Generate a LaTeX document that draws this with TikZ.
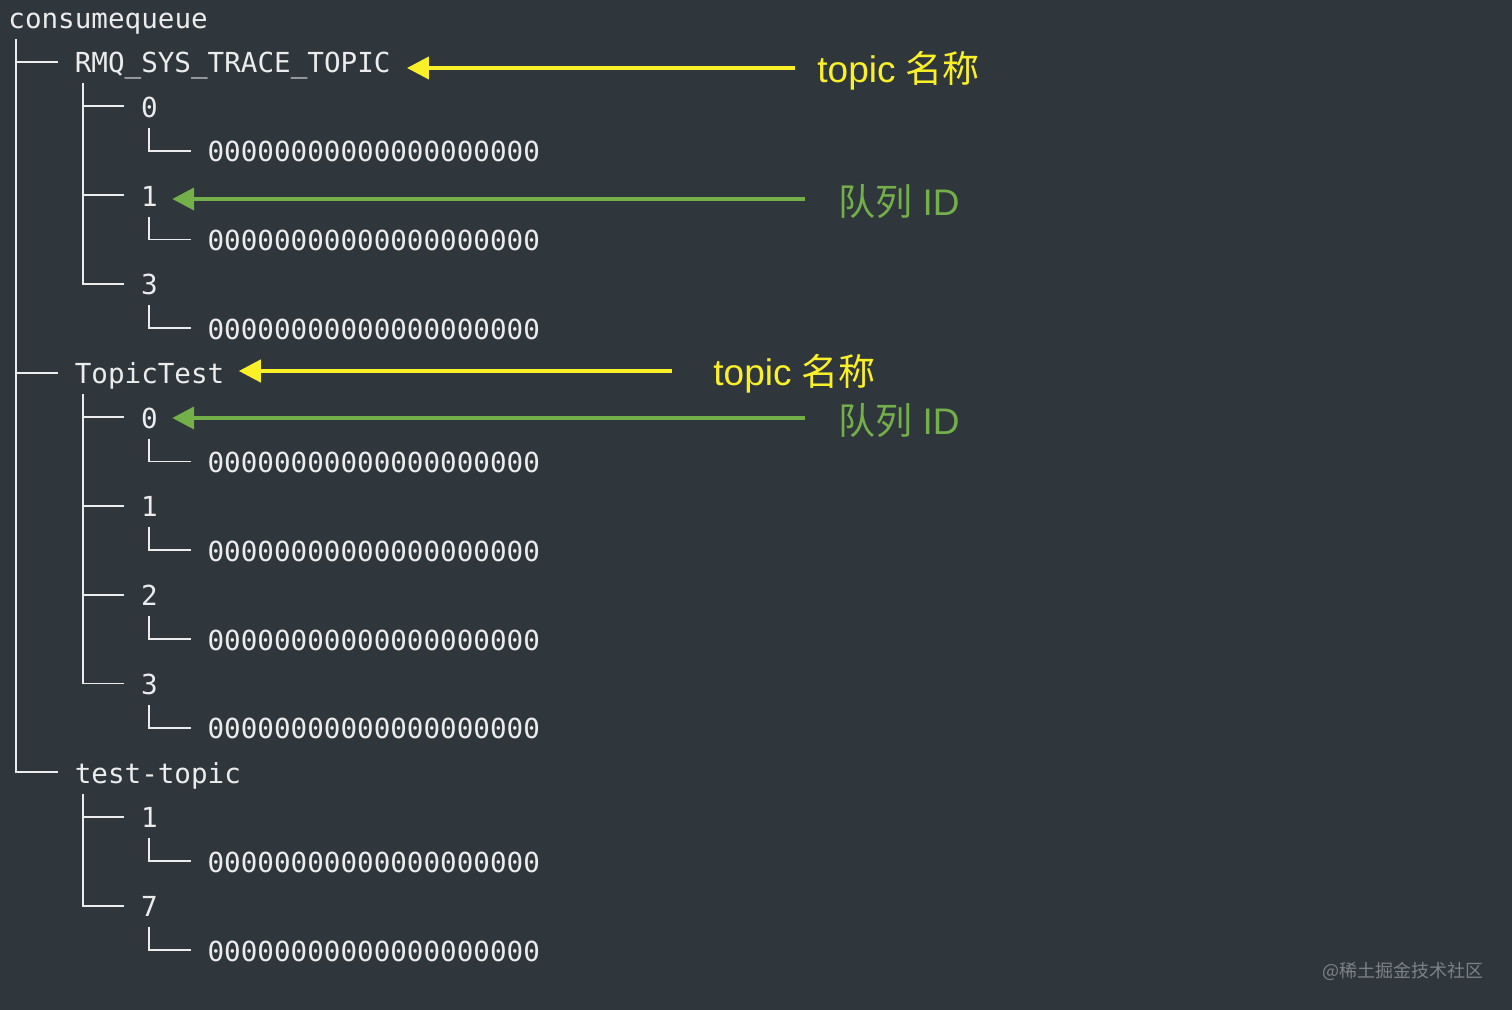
\documentclass[tikz,border=0pt]{standalone}
\usepackage{fontspec}
\usepackage{tikz}
\setmainfont{Liberation Sans}
\setmonofont{DejaVu Sans Mono}
\newfontfamily\cjk{Noto Sans CJK SC}
\usetikzlibrary{positioning,calc,arrows.meta}
\definecolor{bg}{RGB}{47,54,60}
\definecolor{fg}{RGB}{236,236,236}
\definecolor{ylw}{RGB}{250,240,40}
\definecolor{grn}{RGB}{116,176,74}
\definecolor{wm}{RGB}{125,130,135}
\newcommand\qfile{00000000000000000000}

\begin{document}
\begin{tikzpicture}[x=0.5pt, y=-0.5pt,
    entry/.style={anchor=base west, inner sep=0pt, text height=16pt, text depth=5pt,
        text=fg, font=\ttfamily\fontsize{13.8pt}{16pt}\selectfont},
    tree/.style={draw=fg, line width=0.9pt},
    branch/.style={to path={([xshift=4.15pt]\tikztostart.south west) |- ([xshift=-8.3pt]\tikztotarget.west)}},
    note/.style={inner sep=0pt, yshift=-1.5pt, font=\fontsize{18.5pt}{20pt}\selectfont},
    yarrow/.style={-{Triangle[length=11pt,width=11pt]}, line width=2pt, ylw},
    garrow/.style={-{Triangle[length=11pt,width=11pt]}, line width=2pt, grn}]
    \useasboundingbox (0,0) rectangle (1512,1010);
    \fill [bg] (0,0) rectangle (1512,1010);

    % Root
    \node (cq) [entry] at (8,28.6) {consumequeue};

    % RMQ_SYS_TRACE_TOPIC
    \node (rmq) [entry] at (74.4,73) {RMQ\_SYS\_TRACE\_TOPIC};
    \node (rmq0) [entry] at (140.8,117.4) {0};
    \node (rmq0f) [entry] at (207.2,161.8) {\qfile};
    \node (rmq1) [entry] at (140.8,206.2) {1};
    \node (rmq1f) [entry] at (207.2,250.6) {\qfile};
    \node (rmq3) [entry] at (140.8,295) {3};
    \node (rmq3f) [entry] at (207.2,339.4) {\qfile};

    % TopicTest
    \node (tt) [entry] at (74.4,383.8) {TopicTest};
    \node (tt0) [entry] at (140.8,428.2) {0};
    \node (tt0f) [entry] at (207.2,472.6) {\qfile};
    \node (tt1) [entry] at (140.8,517) {1};
    \node (tt1f) [entry] at (207.2,561.4) {\qfile};
    \node (tt2) [entry] at (140.8,605.8) {2};
    \node (tt2f) [entry] at (207.2,650.2) {\qfile};
    \node (tt3) [entry] at (140.8,694.6) {3};
    \node (tt3f) [entry] at (207.2,739) {\qfile};

    % test-topic
    \node (tp) [entry] at (74.4,783.4) {test-topic};
    \node (tp1) [entry] at (140.8,827.8) {1};
    \node (tp1f) [entry] at (207.2,872.2) {\qfile};
    \node (tp7) [entry] at (140.8,916.6) {7};
    \node (tp7f) [entry] at (207.2,961) {\qfile};

    % Tree lines
    \draw [tree] (cq) to [branch] (rmq) (cq) to [branch] (tt) (cq) to [branch] (tp);
    \draw [tree] (rmq) to [branch] (rmq0) (rmq) to [branch] (rmq1) (rmq) to [branch] (rmq3);
    \draw [tree] (rmq0) to [branch] (rmq0f) (rmq1) to [branch] (rmq1f) (rmq3) to [branch] (rmq3f);
    \draw [tree] (tt) to [branch] (tt0) (tt) to [branch] (tt1) (tt) to [branch] (tt2) (tt) to [branch] (tt3);
    \draw [tree] (tt0) to [branch] (tt0f) (tt1) to [branch] (tt1f) (tt2) to [branch] (tt2f) (tt3) to [branch] (tt3f);
    \draw [tree] (tp) to [branch] (tp1) (tp) to [branch] (tp7);
    \draw [tree] (tp1) to [branch] (tp1f) (tp7) to [branch] (tp7f);

    % Topic names
    \coordinate (ytail1) at (795,68);
    \node (yname1) [note, ylw, right=11pt of ytail1] {topic {\cjk 名称}};
    \draw [yarrow] (ytail1) -- ([xshift=8pt]ytail1 -| rmq.east);
    \coordinate (ytail2) at (672,371);
    \node (yname2) [note, ylw, right=20.5pt of ytail2] {topic {\cjk 名称}};
    \draw [yarrow] (ytail2) -- ([xshift=7pt]ytail2 -| tt.east);

    % Queue ids
    \coordinate (gtail1) at (805,199);
    \node (gname1) [note, grn, right=16.5pt of gtail1] {{\cjk 队列} ID};
    \draw [garrow] (gtail1) -- ([xshift=7pt]gtail1 -| rmq1.east);
    \coordinate (gtail2) at (805,418);
    \node (gname2) [note, grn, right=16.5pt of gtail2] {{\cjk 队列} ID};
    \draw [garrow] (gtail2) -- ([xshift=7pt]gtail2 -| tt0.east);

    % Watermark
    \node (mark) [anchor=east, inner sep=0pt, wm, font=\cjk\fontsize{9pt}{10pt}\selectfont] at (1484,971) {@稀土掘金技术社区};
\end{tikzpicture}
\end{document}
